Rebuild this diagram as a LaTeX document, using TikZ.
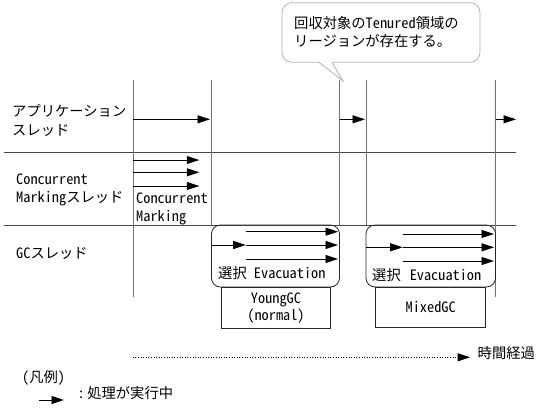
\documentclass[tikz,border=0pt]{standalone}
\usepackage{fontspec}
\setmainfont{Noto Sans CJK JP}
\newfontfamily\lat{Noto Sans CJK JP}[RawFeature=+hwid]
\usetikzlibrary{arrows.meta}
\begin{document}
\begin{tikzpicture}[x=1pt,y=-1pt,
  font=\fontsize{14.3}{17}\selectfont,
  vline/.style={draw=black!55,line width=1pt},
  hline/.style={draw=black!72,line width=0.9pt},
  run/.style={-{Triangle[length=12.5pt,width=8pt]},line width=0.8pt},
  lbl/.style={inner sep=0pt,anchor=base west},
  clbl/.style={inner sep=0pt,anchor=base},
  gcbox/.style={draw=black!85,line width=0.8pt,rounded corners=9pt},
  kind/.style={draw=black!85,line width=0.8pt,fill=white},
  callout/.style={draw=black!30,line width=0.8pt,fill=white}]
\useasboundingbox (0,0) rectangle (546,413);

% callout
\draw[callout,rounded corners=10pt] (282,2.7) rectangle (480,62.3);
\fill[white] (319,61.5) -- (343,81) -- (332,61.5) -- cycle;
\draw[white,line width=1.2pt] (319.6,62.3) -- (331.4,62.3);
\coordinate (tailL) at (319,62.3);
\coordinate (tailR) at (332,62.3);
\coordinate (tip) at (343,81);
\draw[draw=black!30,line width=0.8pt] (tailL) -- (tip) -- (tailR);
\node[lbl] (c1) at (294,28.8) {回収対象の{\lat Tenured}領域の};
\node[lbl] (c2) at (294,46.5) {リージョンが存在する。};

% horizontal separators
\coordinate (h1a) at (4,152);   \coordinate (h1b) at (516,152);
\coordinate (h2a) at (4,225);   \coordinate (h2b) at (516,225);
\draw[hline] (h1a) -- (h1b);
\draw[hline] (h2a) -- (h2b);

% vertical lines
\coordinate (v1t) at (133,80);   \coordinate (v1b) at (133,297);
\coordinate (v2t) at (211.5,80); \coordinate (v2b) at (211.5,225);
\coordinate (v3t) at (339.5,80); \coordinate (v3b) at (339.5,225);
\coordinate (v4t) at (366,80);   \coordinate (v4b) at (366,225);
\coordinate (v5t) at (495.5,80); \coordinate (v5b) at (495.5,297);
\draw[vline] (v1t) -- (v1b);
\draw[vline] (v2t) -- (v2b);
\draw[vline] (v3t) -- (v3b);
\draw[vline] (v4t) -- (v4b);
\draw[vline] (v5t) -- (v5b);

% labels left
\node[lbl] (app1) at (12,116) {アプリケーション};
\node[lbl] (app2) at (12,135) {スレッド};
\node[lbl] (cm1) at (16,184) {\lat Concurrent};
\node[lbl] (cm2) at (16,202) {{\lat Marking}スレッド};
\node[lbl] (gc) at (16,258.7) {{\lat GC}スレッド};

% application thread arrows
\coordinate (a1s) at (133,119.3);   \coordinate (a1e) at (210,119.3);
\coordinate (a2s) at (339.5,119.3); \coordinate (a2e) at (365,119.3);
\coordinate (a3s) at (495.5,119.3); \coordinate (a3e) at (516,119.3);
\draw[run] (a1s) -- (a1e);
\draw[run] (a2s) -- (a2e);
\draw[run] (a3s) -- (a3e);

% concurrent marking arrows
\coordinate (m1s) at (133,160);   \coordinate (m1e) at (199.3,160);
\coordinate (m2s) at (133,172.3); \coordinate (m2e) at (199.3,172.3);
\coordinate (m3s) at (133,186);   \coordinate (m3e) at (199.3,186);
\draw[run] (m1s) -- (m1e);
\draw[run] (m2s) -- (m2e);
\draw[run] (m3s) -- (m3e);
\node[lbl] (cmt1) at (136,203.5) {\lat Concurrent};
\node[lbl] (cmt2) at (136,221) {\lat Marking};

% GC boxes
\draw[gcbox] (211.5,225) rectangle (339.5,287);
\draw[gcbox] (366,225) rectangle (495.5,287);

% young GC arrows
\coordinate (y1s) at (245.7,231.7); \coordinate (y1e) at (338,231.7);
\coordinate (y2s) at (211.5,245);   \coordinate (y2m) at (245.7,245); \coordinate (y2e) at (338,245);
\coordinate (y3s) at (245.7,259);   \coordinate (y3e) at (338,259);
\draw[run] (y1s) -- (y1e);
\draw[run] (y2s) -- (y2m);
\draw[run] (y2m) -- (y2e);
\draw[run] (y3s) -- (y3e);
\node[lbl] (ev1) at (218,278.7) {選択{\lat\ Evacuation}};

% mixed GC arrows
\coordinate (x1s) at (402.7,234);   \coordinate (x1e) at (494,234);
\coordinate (x2s) at (366,247.3);   \coordinate (x2m) at (402.7,247.3); \coordinate (x2e) at (494,247.3);
\coordinate (x3s) at (402.7,261);   \coordinate (x3e) at (494,261);
\draw[run] (x1s) -- (x1e);
\draw[run] (x2s) -- (x2m);
\draw[run] (x2m) -- (x2e);
\draw[run] (x3s) -- (x3e);
\node[lbl] (ev2) at (372,280) {選択\hspace{9pt}{\lat Evacuation}};

% GC kind boxes
\draw[kind] (221.7,287) rectangle (330,328);
\node[clbl] (yg1) at (276,303.5) {\lat YoungGC};
\node[clbl] (yg2) at (276,320.5) {\lat (normal)};
\draw[kind] (375.7,287) rectangle (485.7,327);
\node[clbl] (mg) at (430.7,312) {\lat MixedGC};

% time arrow
\coordinate (ts) at (132.7,357.3); \coordinate (te) at (470,357.3);
\draw[-{Triangle[length=12.5pt,width=8pt]},line width=1pt,dash pattern=on 1pt off 1.6pt] (ts) -- (te);
\node[lbl] (time) at (477.5,358) {時間経過};

% legend
\node[lbl] (leg) at (22,382.7) {{\lat (}凡例{\lat )}};
\coordinate (ls) at (39.3,400); \coordinate (le) at (64,400);
\draw[run] (ls) -- (le);
\node[lbl] (legt) at (77.5,398.7) {{\lat :}\hspace{2.5pt}処理が実行中};
\end{tikzpicture}
\end{document}
